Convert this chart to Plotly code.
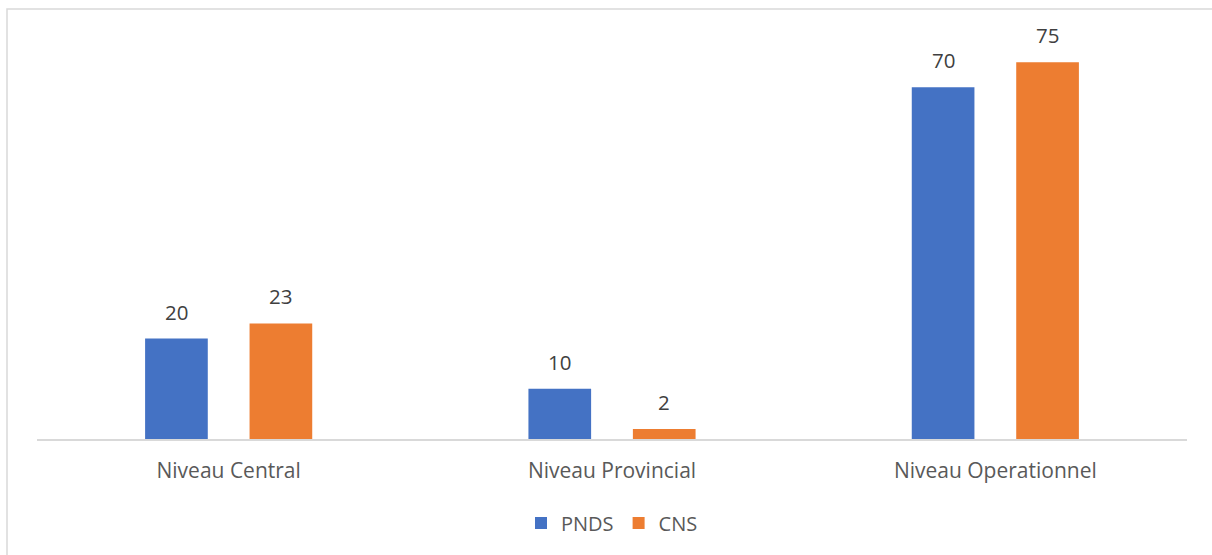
import plotly.graph_objects as go

categories = ["Niveau Central", "Niveau Provincial", "Niveau Operationnel"]
series_names = ["PNDS", "CNS"]
pnds_values = [20, 10, 70]
cns_values = [23, 2, 75]

colors = {"PNDS": "#4472C4", "CNS": "#ED7D31"}
W, H = 1212, 555
L, R, T, B = 37, 25, 37, 116
FONT = "Open Sans"

fig = go.Figure()
for name, vals in zip(series_names, [pnds_values, cns_values]):
    fig.add_trace(go.Bar(
        name=name, x=categories, y=vals,
        marker=dict(color=colors[name], line=dict(width=0)),
        hoverinfo="x+y+name",
    ))

# data labels above each bar
offsets = [-52.3, 52.3]
for off, vals in zip(offsets, [pnds_values, cns_values]):
    for c, v in zip(categories, vals):
        fig.add_annotation(
            x=c, y=v, xref="x", yref="y", text=str(v), showarrow=False,
            xshift=off, yshift=11, yanchor="bottom",
            font=dict(family=FONT, size=20.5, color="#404040"),
        )

plot_h = H - T - B
plot_w = W - L - R
fig.add_shape(
    type="rect", xref="paper", yref="paper",
    x0=(7 - L) / plot_w, x1=(W + 5 - L) / plot_w,
    y0=(H - B - (H + 5)) / plot_h, y1=(H - B - 9) / plot_h,
    line=dict(color="#D9D9D9", width=1.5), fillcolor="rgba(0,0,0,0)", layer="below",
)

fig.update_layout(
    width=W, height=H,
    margin=dict(l=L, r=R, t=T, b=B),
    paper_bgcolor="white", plot_bgcolor="white",
    barmode="group", bargap=0.455, bargroupgap=0.40,
    font=dict(family=FONT, size=20, color="#595959"),
    showlegend=True,
    legend=dict(
        orientation="h", x=0.5, xanchor="center", y=(H - B - 523) / plot_h, yanchor="middle",
        font=dict(family=FONT, size=20, color="#595959"), bgcolor="rgba(0,0,0,0)",
    ),
    xaxis=dict(
        showline=True, linecolor="#D9D9D9", linewidth=1.5, ticks="",
        showgrid=False, zeroline=False, ticklabelstandoff=12,
        tickfont=dict(family=FONT, size=21, color="#595959"),
    ),
    yaxis=dict(
        range=[0, 80], visible=False, showgrid=False, zeroline=False,
    ),
)

fig.write_html("out.html")
